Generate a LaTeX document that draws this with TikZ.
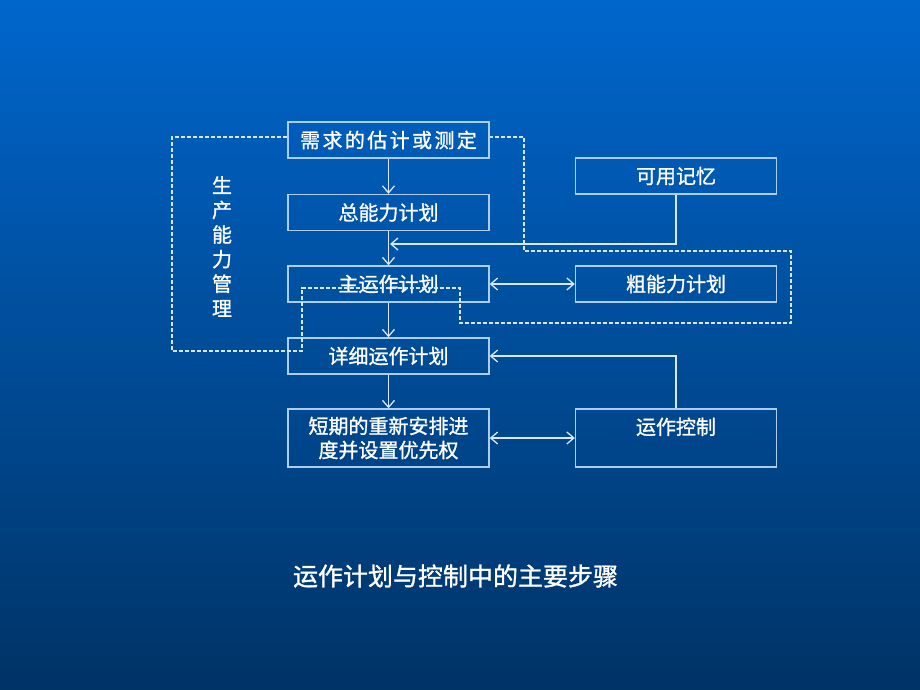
\documentclass[tikz,border=0pt]{standalone}
\usepackage{fontspec}
\newfontfamily\cjk[FakeBold=1.2]{Noto Sans CJK SC}
\usetikzlibrary{arrows.meta}
\definecolor{bgtop}{RGB}{0,102,204}
\definecolor{bgbot}{RGB}{0,51,102}
\definecolor{edge}{RGB}{170,205,240}
\definecolor{wire}{RGB}{215,232,250}
\tikzset{
  box/.style={draw=edge, line width=1.4pt, minimum width=201pt, minimum height=36pt,
    inner sep=0pt, text=white, font=\cjk\fontsize{20}{24}\selectfont, align=center},
  tallbox/.style={box, minimum height=58pt},
  arr/.style={draw=wire, line width=1.3pt, -{Straight Barb[length=7pt,width=12pt]}},
  darr/.style={draw=wire, line width=1.3pt, {Straight Barb[length=7pt,width=12pt]}-{Straight Barb[length=7pt,width=12pt]}},
  dashline/.style={draw=wire, line width=1.1pt, dash pattern=on 4pt off 2pt},
  lbl/.style={text=white, inner sep=0pt}
}
\begin{document}
\begin{tikzpicture}[x=1pt,y=-1pt]
\shade[top color=bgtop, bottom color=bgbot] (0,0) rectangle (920,690);
\useasboundingbox (0,0) rectangle (920,690);

\node[box] (d1) at (388.5,140) {\addfontfeature{LetterSpace=12}需求的估计或测定};
\node[box] (d2) at (388.5,212.5) {总能力计划};
\node[box] (d3) at (388.5,284) {主运作计划};
\node[box] (d4) at (388.5,356) {详细运作计划};
\node[tallbox] (d5) at (388.5,438) {短期的重新安排进\\度并设置优先权};
\node[box] (m) at (676,176) {可用记忆};
\node[box] (r) at (676,284) {粗能力计划};
\node[tallbox] (c) at (676,438) {运作控制\\\mbox{}};

\node[lbl, font=\cjk\fontsize{20}{24.6}\selectfont, align=center] (v) at (222,246.5) {生\\产\\能\\力\\管\\理};
\node[lbl, font=\cjk\fontsize{25}{30}\selectfont] (t) at (455.5,576) {运作计划与控制中的主要步骤};

\coordinate (j) at (390,244);
\draw[arr] (d1) -- (d2);
\draw[arr] (d2) -- (d3);
\draw[arr] (d3) -- (d4);
\draw[arr] (d4) -- (d5);
\draw[arr] (m.south) |- (j);
\draw[darr] (d3) -- (r);
\draw[arr] (c.north) |- (d4.east);
\draw[darr] (d5) -- (c);

\draw[dashline] ([yshift=3pt]d1.west) -- (172,137) -- (172,351) -- (302,351) -- (302,288)
  -- (460,288) -- (460,323) -- (791,323) -- (791,251) -- (524,251) -- (524,137) -- ([yshift=3pt]d1.east);
\end{tikzpicture}
\end{document}
